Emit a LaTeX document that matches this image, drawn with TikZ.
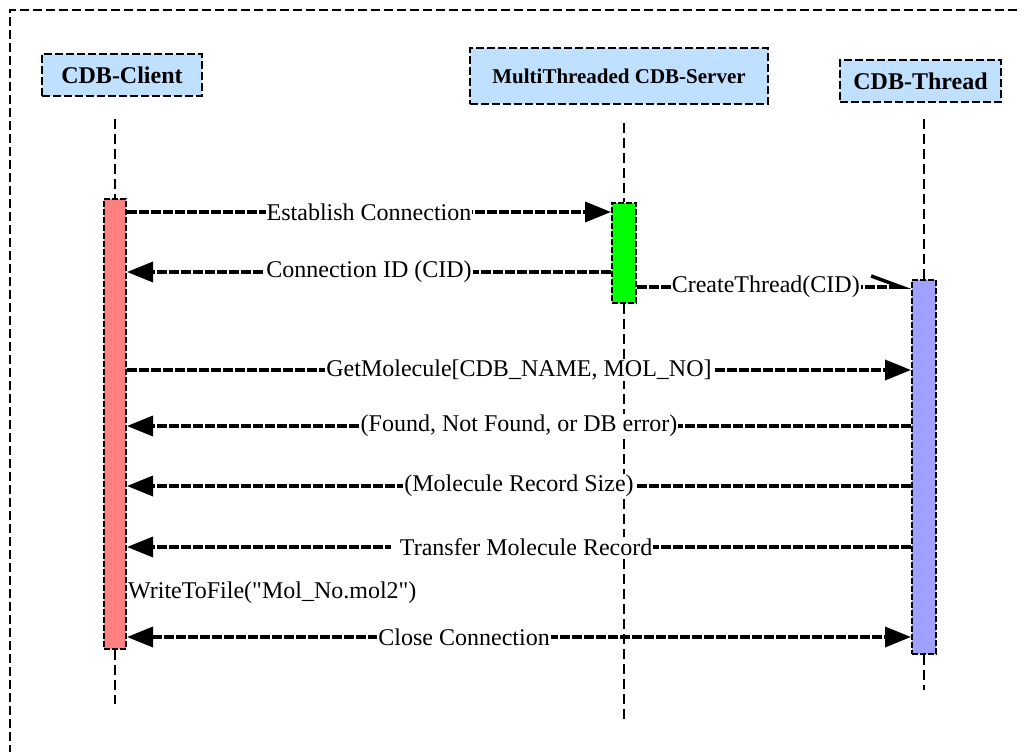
\documentclass[tikz,border=0pt]{standalone}
\usepackage{fontspec}
\setmainfont{Liberation Serif}
\usetikzlibrary{arrows.meta}
\definecolor{boxblue}{RGB}{192,224,255}
\definecolor{clientred}{RGB}{255,128,128}
\definecolor{servergreen}{RGB}{0,255,0}
\definecolor{threadblue}{RGB}{160,160,255}
\begin{document}
\begin{tikzpicture}[x=1pt,y=-1pt,
  tri/.tip={Triangle[length=26pt,width=20pt]},
  actor/.style={draw, dash pattern=on 8pt off 3pt, line width=2pt, fill=boxblue, inner sep=0pt},
  act/.style={draw, dash pattern=on 6pt off 2pt, line width=2pt, inner sep=0pt},
  life/.style={line width=1.5pt, dash pattern=on 10pt off 5pt},
  msgline/.style={line width=3.5pt, dash pattern=on 10pt off 2pt},
  msg/.style={msgline, -tri},
  lbl/.style={fill=white, inner sep=1pt, font=\fontsize{24}{28}\selectfont},
  frame/.style={line width=2pt, dash pattern=on 9pt off 4pt}]
\useasboundingbox (0,0) rectangle (1021,752);
% outer frame
\coordinate (frtl) at (10,10);
\coordinate (frtr) at (1030,10);
\coordinate (frbl) at (10,760);
\draw[frame] (frtr) -- (frtl) -- (frbl);
% actors
\node[actor, minimum width=160pt, minimum height=42pt, font=\bfseries\fontsize{24}{28}\selectfont] (client) at (122,75) {CDB-Client};
\node[actor, minimum width=298pt, minimum height=56pt, font=\bfseries\fontsize{21}{25}\selectfont] (server) at (619,76) {MultiThreaded CDB-Server};
\node[actor, minimum width=161pt, minimum height=42pt, font=\bfseries\fontsize{24}{28}\selectfont] (thread) at (920.5,81) {CDB-Thread};
% activations
\node[act, fill=clientred, minimum width=22pt, minimum height=450pt] (ca) at (115,424) {};
\node[act, fill=servergreen, minimum width=24pt, minimum height=100pt] (sa) at (624,253) {};
\node[act, fill=threadblue, minimum width=24pt, minimum height=374pt] (ta) at (924,467) {};
% lifelines
\coordinate (cltop) at (115,119);
\coordinate (clend) at (115,704);
\coordinate (svtop) at (624,123);
\coordinate (svend) at (624,723);
\coordinate (thtop) at (924,119);
\coordinate (thend) at (924,690);
\draw[life] (cltop) -- (ca.north);
\draw[life] (ca.south) -- (clend);
\draw[life] (svtop) -- (sa.north);
\draw[life] (sa.south) -- (svend);
\draw[life] (thtop) -- (ta.north);
\draw[life] (ta.south) -- (thend);
% messages
\draw[msg] (ca.east |- 0,212) -- node[lbl]{Establish Connection} (sa.west |- 0,212);
\draw[msg] (sa.west |- 0,272) -- node[lbl]{Connection ID (CID)} (ca.east |- 0,272);
\draw[msgline, -{Straight Barb[harpoon,length=30pt,width=22pt,line width=3.5pt]}]
  (sa.east |- 0,287) -- node[lbl, pos=0.47]{CreateThread(CID)} (ta.west |- 0,287);
\draw[msg] (ca.east |- 0,370) -- node[lbl]{GetMolecule[CDB\_NAME, MOL\_NO]} (ta.west |- 0,370);
\draw[msg] (ta.west |- 0,426) -- node[lbl]{(Found, Not Found, or DB error)} (ca.east |- 0,426);
\draw[msg] (ta.west |- 0,486) -- node[lbl]{(Molecule Record Size)} (ca.east |- 0,486);
\draw[msg] (ta.west |- 0,547) -- node[lbl, pos=0.496]{\hspace*{8pt}Transfer Molecule Record} (ca.east |- 0,547);
\node[lbl, fill=none, anchor=west] (wf) at (ca.east |- 0,593) {WriteToFile(\textquotedbl Mol\_No.mol2\textquotedbl)};
\draw[msg, tri-tri] (ca.east |- 0,637) -- node[lbl, pos=0.43]{Close Connection} (ta.west |- 0,637);
\end{tikzpicture}
\end{document}
